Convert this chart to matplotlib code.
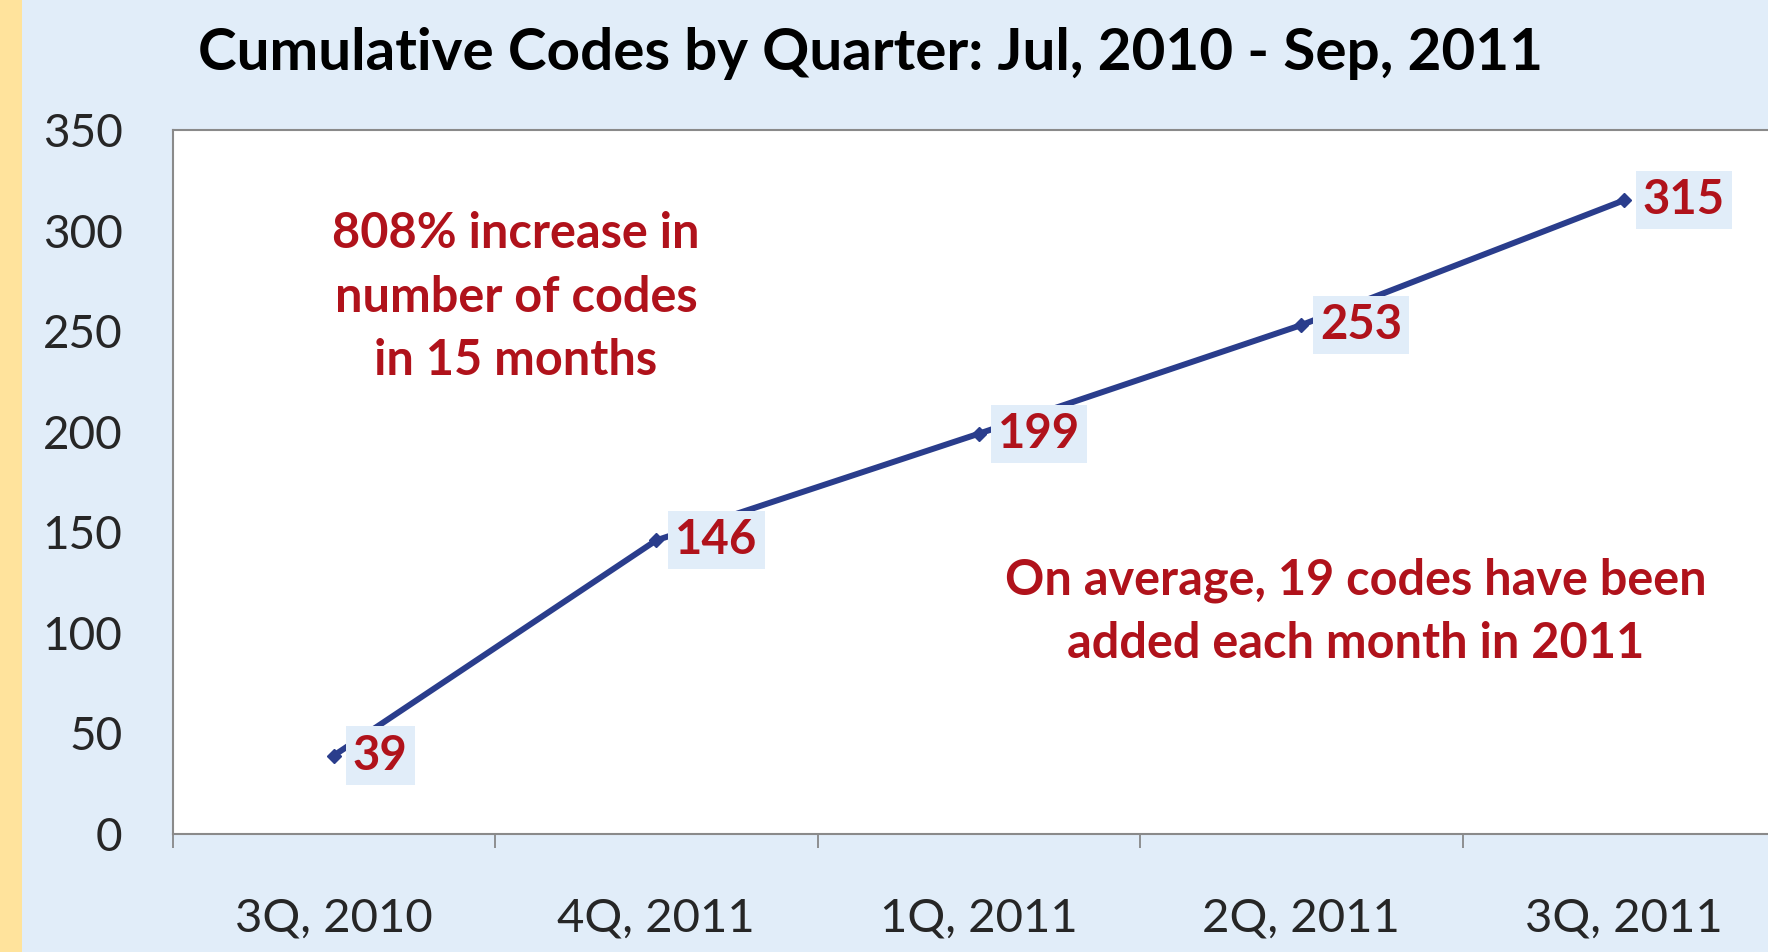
import matplotlib
matplotlib.use("Agg")
import matplotlib.pyplot as plt
from matplotlib.patches import Rectangle
import numpy as np

plt.rcParams['font.family'] = ['Lato', 'DejaVu Sans']

# Datos del grafico
quarters = ["3Q, 2010", "4Q, 2011", "1Q, 2011", "2Q, 2011", "3Q, 2011"]
codes = [39, 146, 199, 253, 315]
title = "Cumulative Codes by Quarter: Jul, 2010 - Sep, 2011"
note_left = "808% increase in\nnumber of codes\nin 15 months"
note_right = "On average, 19 codes have been\nadded each month in 2011"

bg = "#E1EDF9"
red = "#B0121B"
navy = "#2A3D8C"
W, H = 1768, 952

fig = plt.figure(figsize=(W / 100, H / 100), dpi=100, facecolor=bg)
# franja amarilla a la izquierda
fig.patches.append(Rectangle((0, 0), 22 / W, 1, transform=fig.transFigure,
                             facecolor="#FFE39C", edgecolor="none", zorder=0))

left, right, bottom, top = 172.5 / W, 1785 / W, 1 - 834 / H, 1 - 130 / H
ax = fig.add_axes([left, bottom, right - left, top - bottom])
ax.set_facecolor("white")

x = np.arange(len(codes))
ax.plot(x, codes, color=navy, linewidth=4.3, marker="D", markersize=7.5, zorder=2)

for xi, v in zip(x, codes):
    ax.annotate(str(v), (xi, v), xytext=(19, 0), textcoords="offset pixels",
                ha="left", va="center", fontsize=34, fontweight="bold", color=red,
                bbox=dict(boxstyle="square,pad=0.15", facecolor=bg, edgecolor="none"),
                zorder=3)

ax.set_xlim(-0.5, len(codes) - 0.5)
ax.set_ylim(0, 350)
ax.set_yticks(np.arange(0, 351, 50))
ax.tick_params(axis="y", length=0, pad=36, labelsize=33, labelcolor="#262626")

ax.set_xticks(x)
ax.set_xticklabels(quarters)
ax.set_xticks(np.arange(-0.5, len(codes)), minor=True)
ax.tick_params(axis="x", which="major", length=0, pad=46, labelsize=34, labelcolor="#262626")
ax.tick_params(axis="x", which="minor", length=10, width=1.2, color="#7f7f7f", direction="out")

for s in ["left", "bottom", "top"]:
    ax.spines[s].set_color("#8a8a8a")
    ax.spines[s].set_linewidth(1.5)
ax.spines["right"].set_visible(False)

fig.text(870 / W, 1 - 53 / H, title, ha="center", va="center",
         fontsize=42, fontweight="bold", color="black")
fig.text(516 / W, 1 - 297 / H, note_left, ha="center", va="center",
         fontsize=35, fontweight="bold", color=red, linespacing=1.5)
fig.text(1356 / W, 1 - 612 / H, note_right, ha="center", va="center",
         fontsize=35, fontweight="bold", color=red, linespacing=1.5)

fig.savefig("out.png", dpi=100, facecolor=bg)
